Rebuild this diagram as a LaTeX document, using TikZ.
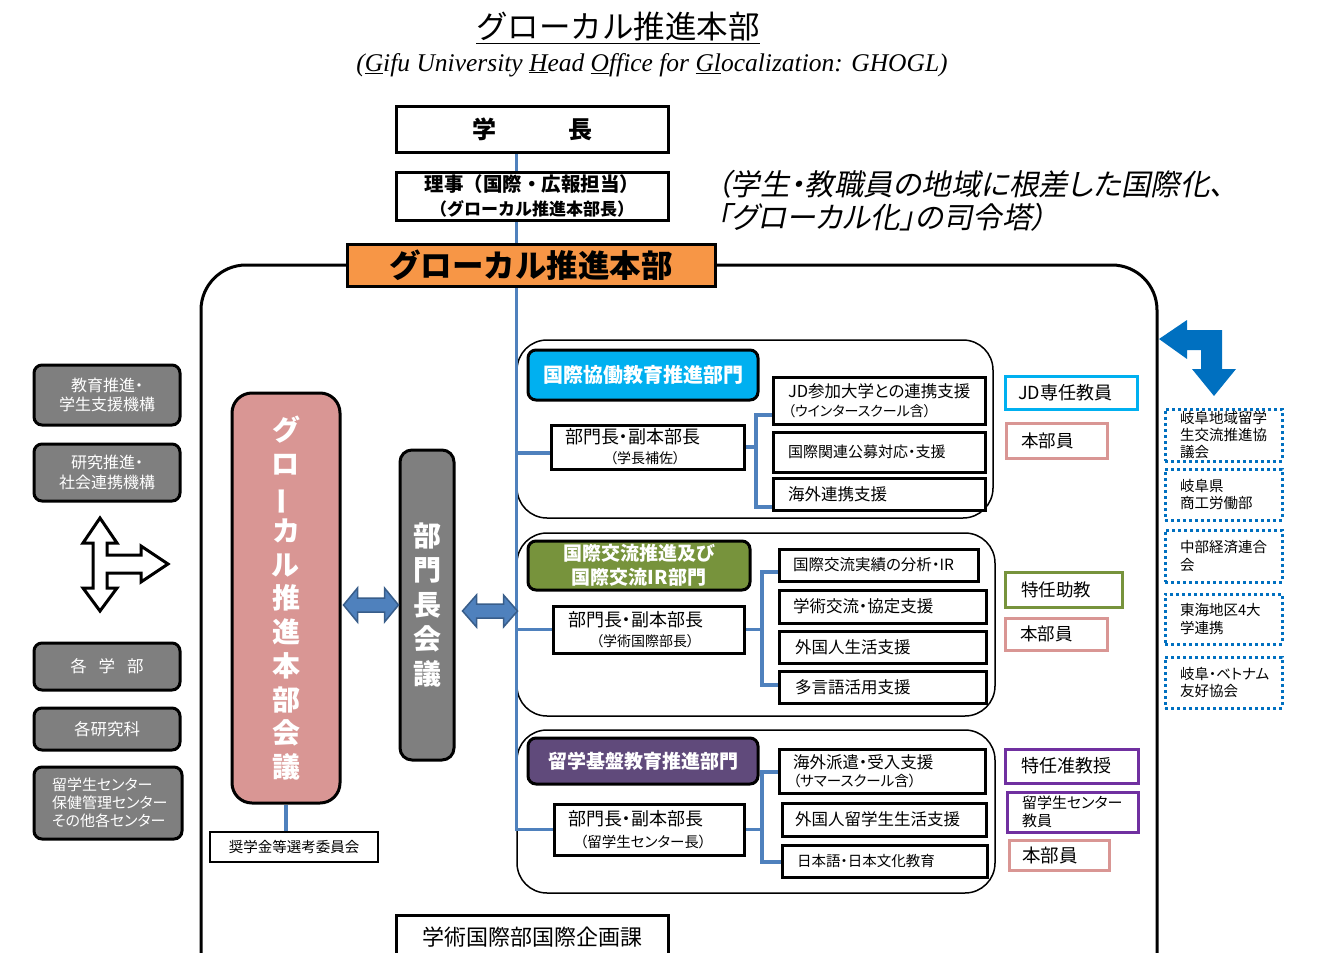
\documentclass[tikz,border=0pt]{standalone}
\usepackage{fontspec}
\usepackage{graphicx}
\setmainfont{Noto Sans CJK JP}[RawFeature=+palt]
\newfontfamily\jpfw{Noto Sans CJK JP}
\newfontfamily\tnr{Liberation Serif}
\newfontfamily\jpit{Noto Sans CJK JP}[FakeSlant=0.2,RawFeature=+palt]
\usetikzlibrary{calc}
\definecolor{blueL}{HTML}{4F81BD}
\definecolor{blueE}{HTML}{385D8A}
\definecolor{blueD}{HTML}{0070C0}
\definecolor{cyanB}{HTML}{00B0F0}
\definecolor{orangeB}{HTML}{F79646}
\definecolor{greenB}{HTML}{77933C}
\definecolor{purpleF}{HTML}{604A7B}
\definecolor{purpleB}{HTML}{7030A0}
\definecolor{pinkB}{HTML}{D99694}
\definecolor{grayB}{HTML}{7F7F7F}
\pgfdeclarelayer{bgzero}\pgfdeclarelayer{bgone}\pgfsetlayers{bgzero,bgone,main}
\newcommand\fs[1]{\fontsize{#1pt}{\dimexpr #1pt*6/5\relax}\selectfont}
\newcommand\bnode[7]{%
 \pgfmathsetmacro\bw{#4-#3}\pgfmathsetmacro\bh{#6-#5}%
 \pgfmathsetmacro\bcx{(#3+#4)/2}\pgfmathsetmacro\bcy{(#5+#6)/2}%
 \node[#1,minimum width=\bw pt,minimum height=\bh pt] (#2) at (\bcx,\bcy) {#7};}
\newcommand\lnode[8]{%
 \pgfmathsetmacro\bw{#4-#3}\pgfmathsetmacro\bh{#6-#5}%
 \pgfmathsetmacro\bcx{(#3+#4)/2}\pgfmathsetmacro\bcy{(#5+#6)/2}%
 \pgfmathsetmacro\tw{#4-#3-2*#7}%
 \node[#1,inner xsep=#7pt,text width=\tw pt,align=left,minimum width=\bw pt,minimum height=\bh pt] (#2) at (\bcx,\bcy) {#8};}
\tikzset{
 bx/.style={draw=black, line width=3pt, fill=white, inner sep=0pt, align=center, text=black},
 thinbx/.style={draw=black, line width=1.5pt, fill=white, inner sep=0pt, align=center},
 grayb/.style={bx, fill=grayB, rounded corners=8pt, text=white},
 hdr/.style={bx, rounded corners=8pt, text=white},
 secbox/.style={draw=black, line width=1.5pt, rounded corners=30pt, inner sep=0pt},
 framebox/.style={draw=black, line width=3pt, rounded corners=45pt, inner sep=0pt},
 colb/.style={draw=#1, line width=3pt, fill=white, inner ysep=0pt},
 dotb/.style={draw=blueD, line width=3pt, dash pattern=on 3pt off 3pt, fill=white, inner ysep=0pt},
 conn/.style={draw=blueL, line width=3.5pt},
 blockarrow/.style={fill=blueL, draw=blueE, line width=1.5pt, line join=miter},
}
\begin{document}
\begin{tikzpicture}[x=1pt,y=-1pt]
\useasboundingbox (0,0) rectangle (1336,953);
\clip (0,0) rectangle (1336,953);
% ---------- background layer: frame and sections
\begin{pgfonlayer}{bgzero}
\clip (0,0) rectangle (1336,953);
\bnode{framebox}{frame}{201}{1157}{265}{1010}{}
\bnode{secbox}{sec1}{517}{993}{340}{518}{}
\bnode{secbox}{sec2}{517}{995}{533}{716}{}
\bnode{secbox}{sec3}{517}{995}{730}{893}{}
\end{pgfonlayer}
% ---------- titles
\node[font=\jpfw\fs{31.5}] (title) at (618,28) {\underline{グローカル推進本部}};
\node[font=\tnr\itshape\fontsize{25.5}{30}\selectfont] (sub) at (652,65)
 {(\underline{G}ifu University \underline{H}ead \underline{O}ffice for \underline{Gl}ocalization: GHOGL)};
\node[font=\jpit\fontsize{29.5}{33}\selectfont, anchor=west, align=left, inner sep=0pt] (motto) at (716,201)
 {（学生・教職員の地域に根差した国際化、\\「グローカル化」の司令塔）};
% ---------- top chain
\bnode{bx, font=\bfseries\fs{24}}{gakucho}{396}{668}{106}{152}{学\hspace{72pt}長}
\bnode{bx, font=\jpfw\bfseries\fs{17}}{riji}{396}{668}{172}{220}{{\fs{19.5}理事（国際・広報担当）}\\[3pt]（グローカル推進本部長）}
\bnode{bx, fill=orangeB, font=\jpfw\bfseries\fs{31.5}}{honbu}{347}{715}{244}{286}{グローカル推進本部}
% ---------- left gray boxes
\bnode{grayb, font=\fs{16}}{g1}{34}{180}{365}{425}{教育推進・\\学生支援機構}
\bnode{grayb, font=\fs{16}}{g2}{34}{180}{444}{501}{研究推進・\\社会連携機構}
\bnode{grayb, font=\fs{16.5}}{g3}{34}{180}{643}{690}{各\hspace{12pt}学\hspace{12pt}部}
\bnode{grayb, font=\fs{16.5}}{g4}{34}{180}{708}{750}{各研究科}
\lnode{grayb, font=\fs{15}}{g5}{34}{182}{767}{839}{18}{留学生センター\\保健管理センター\\その他各センター}
% cross arrow
\draw[line width=3pt, fill=white, line join=miter] (100,518) -- (117,543) -- (107,543) -- (107,555)
 -- (141,555) -- (141,546) -- (168,564) -- (141,582) -- (141,573) -- (107,573) -- (107,588)
 -- (117,588) -- (100,611) -- (83,588) -- (93,588) -- (93,543) -- (83,543) -- cycle;
% ---------- councils
\bnode{bx, fill=pinkB, rounded corners=20pt, text=white, font=\bfseries\fontsize{28}{33.7}\selectfont}{kaigi}{232}{340}{393}{803}%
 {グ\\ロ\\\rotatebox[origin=c]{90}{ー}\\カ\\ル\\推\\進\\本\\部\\会\\議}
\bnode{bx, fill=grayB, rounded corners=12pt, text=white, font=\bfseries\fontsize{28}{34.5}\selectfont}{bmkaigi}{400}{454}{450}{760}%
 {部\\門\\長\\会\\議}
\bnode{thinbx, font=\fs{14.5}}{shogaku}{210}{378}{832}{862}{奨学金等選考委員会}
\bnode{bx, font=\fs{22}}{kikaku}{396}{668}{915}{960}{学術国際部国際企画課}
% ---------- section 1
\bnode{hdr, fill=cyanB, font=\bfseries\fs{20}}{h1}{528}{758}{350}{400}{国際協働教育推進部門}
\lnode{bx, font=\fs{14}}{bu1}{551}{744}{425}{469}{14}{{\fs{18}部門長・副本部長}\\[3pt]\hspace*{45pt}（学長補佐）}
\lnode{bx, font=\fs{14}}{r11}{773}{985}{377}{424}{15}{{\fs{16.5}JD参加大学との連携支援}\\[2pt]（ウインタースクール含）}
\lnode{bx, font=\fs{15}}{r12}{773}{985}{432}{472}{15}{国際関連公募対応・支援}
\lnode{bx, font=\fs{16.5}}{r13}{773}{985}{478}{510}{15}{海外連携支援}
% ---------- section 2
\bnode{hdr, fill=greenB, font=\bfseries\fs{19}}{h2}{528}{750}{541}{590}{国際交流推進及び\\[1pt]国際交流IR部門}
\lnode{bx, font=\fs{14}}{bu2}{553}{744}{606}{653}{15}{{\fs{18}部門長・副本部長}\\[3pt]\hspace*{28pt}（学術国際部長）}
\lnode{bx, font=\fs{15.5}}{r21}{779}{978}{549}{581}{14}{国際交流実績の分析・IR}
\lnode{bx, font=\fs{16.5}}{r22}{779}{986}{590}{623}{14}{学術交流・協定支援}
\lnode{bx, font=\fs{16.5}}{r23}{779}{986}{631}{663}{16}{外国人生活支援}
\lnode{bx, font=\fs{16.5}}{r24}{779}{986}{671}{703}{16}{多言語活用支援}
% ---------- section 3
\bnode{hdr, fill=purpleF, font=\bfseries\fs{19}}{h3}{528}{758}{738}{784}{留学基盤教育推進部門}
\lnode{bx, font=\fs{14.5}}{bu3}{554}{744}{804}{855}{14}{{\fs{18}部門長・副本部長}\\[5pt]\hspace*{12pt}（留学生センター長）}
\lnode{bx, font=\fs{14.5}}{r31}{779}{985}{749}{793}{14}{{\fs{16.5}海外派遣・受入支援}\\[1pt]（サマースクール含）}
\lnode{bx, font=\fs{16.5}}{r32}{782}{986}{803}{836}{13}{外国人留学生生活支援}
\lnode{bx, font=\fs{14.5}}{r33}{782}{987}{845}{877}{15}{日本語・日本文化教育}
% ---------- staff boxes
\lnode{colb=cyanB, font=\fs{18}}{c1}{1005}{1137}{376}{409}{13}{JD専任教員}
\lnode{colb=pinkB, font=\fs{17.5}}{c2}{1006}{1107}{423}{458}{15}{本部員}
\lnode{colb=greenB, font=\fs{17.5}}{c3}{1005}{1122}{572}{607}{16}{特任助教}
\lnode{colb=pinkB, font=\fs{17.5}}{c4}{1005}{1107}{618}{650}{15}{本部員}
\lnode{colb=purpleB, font=\fs{18}}{c5}{1005}{1138}{749}{783}{16}{特任准教授}
\lnode{colb=purpleB, font=\fs{15}}{c6}{1007}{1138}{792}{832}{15}{留学生センター\\教員}
\lnode{colb=pinkB, font=\fs{18.5}}{c7}{1009}{1109}{840}{870}{13}{本部員}
% ---------- outside partners
\lnode{dotb, font=\fs{14.5}}{d1}{1165}{1282}{409}{461}{15}{岐阜地域留学\\生交流推進協\\議会}
\lnode{dotb, font=\fs{14.5}}{d2}{1165}{1282}{469}{520}{15}{岐阜県\\商工労働部}
\lnode{dotb, font=\fs{14.5}}{d3}{1165}{1282}{530}{582}{15}{中部経済連合\\会}
\lnode{dotb, font=\fs{14.5}}{d4}{1165}{1282}{594}{644}{15}{東海地区4大\\学連携}
\lnode{dotb, font=\fs{14.5}}{d5}{1165}{1282}{657}{708}{15}{岐阜・ベトナム\\友好協会}
% L-shaped blue arrow
\fill[blueD] (1159,339) -- (1187,320) -- (1187,330) -- (1222,330) -- (1222,369) -- (1236,369)
 -- (1214,396) -- (1192,369) -- (1201,369) -- (1201,350) -- (1187,350) -- (1187,359) -- cycle;
% block double arrows
\draw[blockarrow] ($(kaigi.east)+(2,7)$) -- ++(14,-17) -- ++(0,10) -- ++(27,0) -- ++(0,-10)
 -- ++(14,17) -- ++(-14,17) -- ++(0,-10) -- ++(-27,0) -- ++(0,10) -- cycle;
\draw[blockarrow] ($(bmkaigi.east)+(7,6)$) -- ++(14,-16) -- ++(0,9) -- ++(27,0) -- ++(0,-9)
 -- ++(14,16) -- ++(-14,16) -- ++(0,-9) -- ++(-27,0) -- ++(0,9) -- cycle;
% ---------- connectors
\begin{pgfonlayer}{bgone}
\coordinate (k1) at (756,0);
\coordinate (k2) at (762,0);
\draw[conn] (gakucho.south -| sec1.west) -- (bu3.west -| sec1.west) -- (bu3.west);
\draw[conn] ([yshift=-6pt]bu1.west -| sec1.west) -- ([yshift=-6pt]bu1.west);
\draw[conn] (bu2.west -| sec1.west) -- (bu2.west);
\draw[conn] (bu1.east) -- (bu1.east -| k1);
\draw[conn] (r11.west |- 0,415) -| (k1 |- 0,507) -- (r13.west |- 0,507);
\draw[conn] (bu2.east) -- (bu2.east -| k2);
\draw[conn] (r21.west |- 0,572) -| (k2 |- 0,685) -- (r24.west |- 0,685);
\draw[conn] (bu3.east) -- (bu3.east -| k2);
\draw[conn] (r31.west |- 0,772) -| (k2 |- 0,862) -- (r33.west |- 0,862);
\draw[conn] (kaigi.south) -- (kaigi.south |- shogaku.north);
\end{pgfonlayer}
\end{tikzpicture}
\end{document}
